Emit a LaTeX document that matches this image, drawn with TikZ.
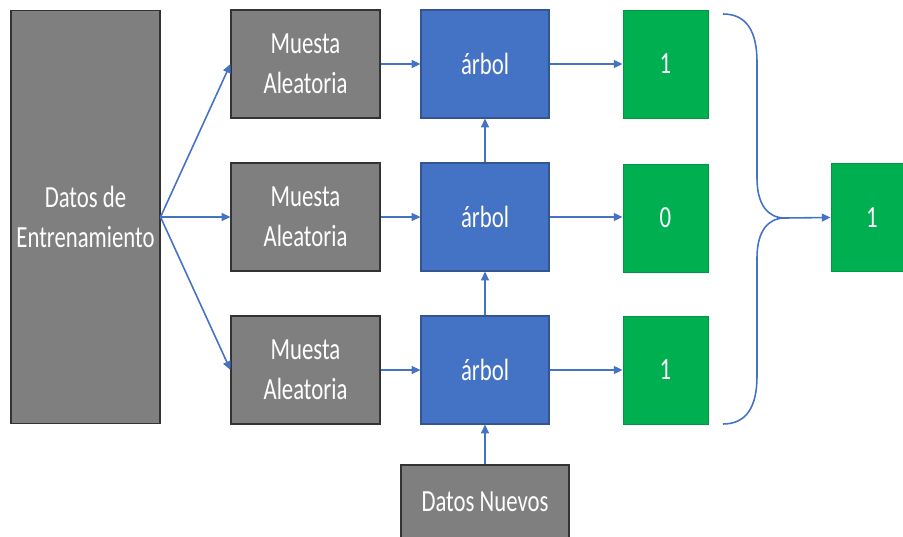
\documentclass[tikz,border=0pt]{standalone}
\usepackage{fontspec}
\setmainfont{Carlito}[FakeStretch=0.74]
\usepackage{xcolor}
\usepackage{tikz}
\usetikzlibrary{arrows.meta, positioning}

\definecolor{boxgray}{HTML}{7F7F7F}
\definecolor{treeblue}{HTML}{4472C4}
\definecolor{voteGreen}{HTML}{00B050}

\begin{document}
\begin{tikzpicture}[x=0.02cm, y=-0.02cm,
    font=\fontsize{17.5}{22.5}\selectfont, >={Triangle[length=5pt,width=4.5pt]},
    gbox/.style={draw=black!80, fill=boxgray, text=white, align=center, inner sep=0pt, line width=0.6pt},
    tbox/.style={draw=treeblue!75!black, fill=treeblue, text=white, inner sep=0pt, line width=0.6pt, minimum width=2.56cm, minimum height=2.16cm},
    vbox/.style={draw=voteGreen!85!black, fill=voteGreen, text=white, inner sep=0pt, line width=0.5pt, minimum height=2.16cm},
    link/.style={->, treeblue, line width=0.9pt}]
    \useasboundingbox (0,0) rectangle (903,537);

    % training data and the three samples
    \node[gbox, minimum width=2.98cm, minimum height=8.28cm] (datos) at (85.5,217) {Datos de\\Entrenamiento};
    \node[gbox, minimum width=2.98cm, minimum height=2.16cm] (m1) at (305.5,64) {Muesta\\Aleatoria};
    \node[gbox, minimum width=2.98cm, minimum height=2.16cm] (m2) at (305.5,217) {Muesta\\Aleatoria};
    \node[gbox, minimum width=2.98cm, minimum height=2.16cm] (m3) at (305.5,370) {Muesta\\Aleatoria};

    % trees
    \node[tbox] (a1) at (485,64) {árbol};
    \node[tbox] (a2) at (485,217) {árbol};
    \node[tbox] (a3) at (485,370) {árbol};

    % votes and result
    \node[vbox, minimum width=1.7cm] (v1) at (665.5,64) {1};
    \node[vbox, minimum width=1.7cm] (v2) at (665.5,218) {0};
    \node[vbox, minimum width=1.7cm] (v3) at (665.5,370) {1};
    \node[vbox, minimum width=1.64cm] (res) at (872,217.5) {1};

    \node[gbox, minimum width=3.36cm, minimum height=1.48cm] (nuevos) at (485,502) {Datos Nuevos};

    \draw[link] (datos.east) -- (m1.west);
    \draw[link] (datos.east) -- (m2.west);
    \draw[link] (datos.east) -- (m3.west);
    \foreach \i in {1,2,3} {
        \draw[link] (m\i) -- (a\i);
        \draw[link] (a\i) -- (v\i.west |- a\i);
    }
    \draw[link] (a3) -- (a2);
    \draw[link] (a2) -- (a1);
    \draw[link] (nuevos) -- (a3);

    % brace gathering the votes
    \coordinate (top) at (723,14);
    \coordinate (bot) at (723,424);
    \coordinate (join) at (785,218);
    \draw[treeblue, line width=0.9pt] (top) .. controls (747,14) and (757,32) .. (757,62) -- (757,178)
        .. controls (757,205) and (768,218) .. (join);
    \draw[treeblue, line width=0.9pt] (bot) .. controls (747,424) and (757,406) .. (757,376) -- (757,258)
        .. controls (757,231) and (768,218) .. (join);
    \draw[link] (join) -- (res.west);
\end{tikzpicture}
\end{document}
